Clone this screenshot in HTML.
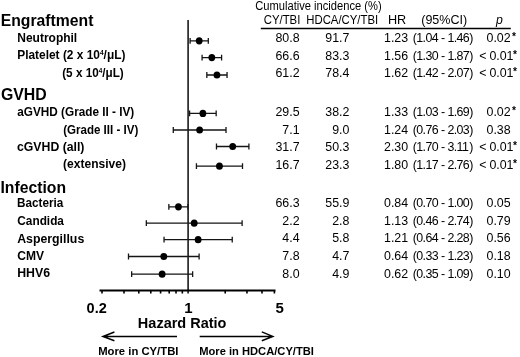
<!DOCTYPE html><html><head><meta charset="utf-8"><style>*{margin:0;padding:0}
html,body{width:520px;height:357px;background:#fff;overflow:hidden}
svg{display:block;filter:grayscale(1)}
text{fill:#000}
.ci{stroke:#151515;stroke-width:1.3;fill:none}
ellipse{fill:#000}
</style></head><body><svg width="520" height="357" viewBox="0 0 520 357">
<path d="M190.11 40.8H208.31M190.11 37.90V43.70M208.31 37.90V43.70" class="ci"/>
<ellipse cx="199.21" cy="40.8" rx="3.4" ry="3.6"/>
<path d="M202.08 57.6H221.60M202.08 54.70V60.50M221.60 54.70V60.50" class="ci"/>
<ellipse cx="211.84" cy="57.6" rx="3.4" ry="3.6"/>
<path d="M206.82 75.0H227.05M206.82 72.10V77.90M227.05 72.10V77.90" class="ci"/>
<ellipse cx="216.94" cy="75.0" rx="3.4" ry="3.6"/>
<path d="M189.59 113.4H216.17M189.59 110.50V116.30M216.17 110.50V116.30" class="ci"/>
<ellipse cx="202.88" cy="113.4" rx="3.4" ry="3.6"/>
<path d="M173.27 130.0H226.01M173.27 127.10V132.90M226.01 127.10V132.90" class="ci"/>
<ellipse cx="199.64" cy="130.0" rx="3.4" ry="3.6"/>
<path d="M216.48 146.5H248.91M216.48 143.60V149.40M248.91 143.60V149.40" class="ci"/>
<ellipse cx="232.69" cy="146.5" rx="3.4" ry="3.6"/>
<path d="M196.43 166.2H242.50M196.43 163.30V169.10M242.50 163.30V169.10" class="ci"/>
<ellipse cx="219.46" cy="166.2" rx="3.4" ry="3.6"/>
<path d="M168.85 206.8H188.00M168.85 203.90V209.70M188.00 203.90V209.70" class="ci"/>
<ellipse cx="178.43" cy="206.8" rx="3.4" ry="3.6"/>
<path d="M146.32 223.2H242.11M146.32 220.30V226.10M242.11 220.30V226.10" class="ci"/>
<ellipse cx="194.21" cy="223.2" rx="3.4" ry="3.6"/>
<path d="M164.04 239.7H232.24M164.04 236.80V242.60M232.24 236.80V242.60" class="ci"/>
<ellipse cx="198.14" cy="239.7" rx="3.4" ry="3.6"/>
<path d="M128.49 256.5H199.11M128.49 253.60V259.40M199.11 253.60V259.40" class="ci"/>
<ellipse cx="163.80" cy="256.5" rx="3.4" ry="3.6"/>
<path d="M131.65 274.2H192.63M131.65 271.30V277.10M192.63 271.30V277.10" class="ci"/>
<ellipse cx="162.14" cy="274.2" rx="3.4" ry="3.6"/>
<path d="M188.1 20V293.5" stroke="#1a1a1a" stroke-width="1.6" fill="none"/>
<path d="M99.5 290.4H275.5" stroke="#000" stroke-width="2" fill="none"/>
<path d="M102.00 290.4V293.6M124.00 290.4V293.6M138.81 290.4V293.6M150.79 290.4V293.6M160.58 290.4V293.6M169.20 290.4V293.6M176.02 290.4V293.6M182.34 290.4V293.6M225.21 290.4V293.6M246.97 290.4V293.6M262.00 290.4V293.6M274.39 290.4V293.6" stroke="#000" stroke-width="1.6" fill="none"/>
<path d="M103 336.5H177M114.4 332L103 336.5L114.4 340.8" stroke="#000" stroke-width="1.5" fill="none"/>
<path d="M199.7 336.4H272.5M261.8 331.9L272.8 336.4L261.8 340.8" stroke="#000" stroke-width="1.5" fill="none"/>
<path d="M260.8 28.6H510.8" stroke="#000" stroke-width="1.5" fill="none"/>
<text transform="translate(0.68,26.20) scale(1.0167,1.0600)" style='font-family:"Liberation Sans",sans-serif;font-weight:bold;font-size:15.5px;font-style:normal'>Engraftment</text>
<text transform="translate(0.93,99.50) scale(1.0243,1.0600)" style='font-family:"Liberation Sans",sans-serif;font-weight:bold;font-size:15.5px;font-style:normal'>GVHD</text>
<text transform="translate(0.48,193.00) scale(1.0167,1.0600)" style='font-family:"Liberation Sans",sans-serif;font-weight:bold;font-size:15.5px;font-style:normal'>Infection</text>
<text transform="translate(17.24,41.90) scale(1.0095,1.0000)" style='font-family:"Liberation Sans",sans-serif;font-weight:bold;font-size:11.9px;font-style:normal'>Neutrophil</text>
<text transform="translate(17.25,59.40) scale(1.0014,1.0000)" style='font-family:"Liberation Sans",sans-serif;font-weight:bold;font-size:11.9px;font-style:normal'>Platelet (2 x 10<tspan dy='-4.2' font-size='0.55em'>4</tspan><tspan dy='4.2'>/μL)</tspan></text>
<text transform="translate(62.21,77.20) scale(0.9854,1.0000)" style='font-family:"Liberation Sans",sans-serif;font-weight:bold;font-size:11.9px;font-style:normal'>(5 x 10<tspan dy='-4.2' font-size='0.55em'>4</tspan><tspan dy='4.2'>/μL)</tspan></text>
<text transform="translate(17.25,115.50) scale(0.9898,1.0000)" style='font-family:"Liberation Sans",sans-serif;font-weight:bold;font-size:11.9px;font-style:normal'>aGVHD (Grade II - IV)</text>
<text transform="translate(63.21,133.50) scale(0.9705,1.0000)" style='font-family:"Liberation Sans",sans-serif;font-weight:bold;font-size:11.9px;font-style:normal'>(Grade III - IV)</text>
<text transform="translate(16.98,150.90) scale(1.0319,1.0000)" style='font-family:"Liberation Sans",sans-serif;font-weight:bold;font-size:11.9px;font-style:normal'>cGVHD (all)</text>
<text transform="translate(63.09,168.40) scale(1.0131,1.0000)" style='font-family:"Liberation Sans",sans-serif;font-weight:bold;font-size:11.9px;font-style:normal'>(extensive)</text>
<text transform="translate(17.06,207.10) scale(0.9881,1.0000)" style='font-family:"Liberation Sans",sans-serif;font-weight:bold;font-size:11.9px;font-style:normal'>Bacteria</text>
<text transform="translate(17.30,224.90) scale(0.9935,1.0000)" style='font-family:"Liberation Sans",sans-serif;font-weight:bold;font-size:11.9px;font-style:normal'>Candida</text>
<text transform="translate(17.14,242.50) scale(1.0359,1.0000)" style='font-family:"Liberation Sans",sans-serif;font-weight:bold;font-size:11.9px;font-style:normal'>Aspergillus</text>
<text transform="translate(17.19,260.00) scale(1.0136,1.0000)" style='font-family:"Liberation Sans",sans-serif;font-weight:bold;font-size:11.9px;font-style:normal'>CMV</text>
<text transform="translate(17.22,277.40) scale(1.0361,1.0000)" style='font-family:"Liberation Sans",sans-serif;font-weight:bold;font-size:11.9px;font-style:normal'>HHV6</text>
<text transform="translate(255.25,10.10) scale(0.9071,1.0000)" style='font-family:"Liberation Sans",sans-serif;font-weight:normal;font-size:12.3px;font-style:normal'>Cumulative incidence (%)</text>
<text transform="translate(263.74,24.30) scale(0.9237,1.0000)" style='font-family:"Liberation Sans",sans-serif;font-weight:normal;font-size:12.3px;font-style:normal'>CY/TBI</text>
<text transform="translate(306.28,24.30) scale(0.9228,1.0000)" style='font-family:"Liberation Sans",sans-serif;font-weight:normal;font-size:12.3px;font-style:normal'>HDCA/CY/TBI</text>
<text transform="translate(387.97,24.20) scale(1.0312,1.0000)" style='font-family:"Liberation Sans",sans-serif;font-weight:normal;font-size:12.3px;font-style:normal'>HR</text>
<text transform="translate(421.23,24.30) scale(1.0207,1.0000)" style='font-family:"Liberation Sans",sans-serif;font-weight:normal;font-size:12.3px;font-style:normal'>(95%CI)</text>
<text transform="translate(495.95,24.30)" style='font-family:"Liberation Sans",sans-serif;font-weight:normal;font-size:12.3px;font-style:italic'>p</text>
<text x="299.6" y="41.9" text-anchor="end" style='font-family:"Liberation Sans",sans-serif;font-weight:normal;font-size:12.4px;font-style:normal'>80.8</text>
<text x="349.4" y="41.9" text-anchor="end" style='font-family:"Liberation Sans",sans-serif;font-weight:normal;font-size:12.4px;font-style:normal'>91.7</text>
<text x="384.0" y="41.9" style='font-family:"Liberation Sans",sans-serif;font-weight:normal;font-size:12.4px;font-style:normal'>1.23</text>
<text transform="translate(412.75,41.90)" style='font-family:"Liberation Sans",sans-serif;font-weight:normal;font-size:12.4px;font-style:normal;letter-spacing:-0.6px'>(1.04</text>
<text transform="translate(441.10,41.90)" style='font-family:"Liberation Sans",sans-serif;font-weight:normal;font-size:12.4px;font-style:normal'>-</text>
<text x="447.4" y="41.9" style='font-family:"Liberation Sans",sans-serif;font-weight:normal;font-size:12.4px;font-style:normal;letter-spacing:-0.6px'>1.46</text>
<text transform="translate(469.35,41.90)" style='font-family:"Liberation Sans",sans-serif;font-weight:normal;font-size:12.4px;font-style:normal'>)</text>
<text x="486.5" y="41.9" style='font-family:"Liberation Sans",sans-serif;font-weight:normal;font-size:12.4px;font-style:normal'>0.02</text>
<text transform="translate(511.90,39.90)" style='font-family:"Liberation Sans",sans-serif;font-weight:bold;font-size:10.2px;font-style:normal'>*</text>
<text x="299.6" y="59.6" text-anchor="end" style='font-family:"Liberation Sans",sans-serif;font-weight:normal;font-size:12.4px;font-style:normal'>66.6</text>
<text x="349.4" y="59.6" text-anchor="end" style='font-family:"Liberation Sans",sans-serif;font-weight:normal;font-size:12.4px;font-style:normal'>83.3</text>
<text x="384.0" y="59.6" style='font-family:"Liberation Sans",sans-serif;font-weight:normal;font-size:12.4px;font-style:normal'>1.56</text>
<text transform="translate(412.75,59.60)" style='font-family:"Liberation Sans",sans-serif;font-weight:normal;font-size:12.4px;font-style:normal;letter-spacing:-0.6px'>(1.30</text>
<text transform="translate(441.10,59.60)" style='font-family:"Liberation Sans",sans-serif;font-weight:normal;font-size:12.4px;font-style:normal'>-</text>
<text x="447.4" y="59.6" style='font-family:"Liberation Sans",sans-serif;font-weight:normal;font-size:12.4px;font-style:normal;letter-spacing:-0.6px'>1.87</text>
<text transform="translate(469.35,59.60)" style='font-family:"Liberation Sans",sans-serif;font-weight:normal;font-size:12.4px;font-style:normal'>)</text>
<text transform="translate(479.20,59.60)" style='font-family:"Liberation Sans",sans-serif;font-weight:normal;font-size:12.4px;font-style:normal'>&lt;</text>
<text x="489.4" y="59.6" style='font-family:"Liberation Sans",sans-serif;font-weight:normal;font-size:12.4px;font-style:normal'>0.01</text>
<text transform="translate(513.00,57.60)" style='font-family:"Liberation Sans",sans-serif;font-weight:bold;font-size:10.2px;font-style:normal'>*</text>
<text x="299.6" y="77.3" text-anchor="end" style='font-family:"Liberation Sans",sans-serif;font-weight:normal;font-size:12.4px;font-style:normal'>61.2</text>
<text x="349.4" y="77.3" text-anchor="end" style='font-family:"Liberation Sans",sans-serif;font-weight:normal;font-size:12.4px;font-style:normal'>78.4</text>
<text x="384.0" y="77.3" style='font-family:"Liberation Sans",sans-serif;font-weight:normal;font-size:12.4px;font-style:normal'>1.62</text>
<text transform="translate(412.75,77.30)" style='font-family:"Liberation Sans",sans-serif;font-weight:normal;font-size:12.4px;font-style:normal;letter-spacing:-0.6px'>(1.42</text>
<text transform="translate(441.10,77.30)" style='font-family:"Liberation Sans",sans-serif;font-weight:normal;font-size:12.4px;font-style:normal'>-</text>
<text x="447.4" y="77.3" style='font-family:"Liberation Sans",sans-serif;font-weight:normal;font-size:12.4px;font-style:normal;letter-spacing:-0.6px'>2.07</text>
<text transform="translate(469.35,77.30)" style='font-family:"Liberation Sans",sans-serif;font-weight:normal;font-size:12.4px;font-style:normal'>)</text>
<text transform="translate(479.20,77.30)" style='font-family:"Liberation Sans",sans-serif;font-weight:normal;font-size:12.4px;font-style:normal'>&lt;</text>
<text x="489.4" y="77.3" style='font-family:"Liberation Sans",sans-serif;font-weight:normal;font-size:12.4px;font-style:normal'>0.01</text>
<text transform="translate(513.00,75.30)" style='font-family:"Liberation Sans",sans-serif;font-weight:bold;font-size:10.2px;font-style:normal'>*</text>
<text x="299.6" y="115.8" text-anchor="end" style='font-family:"Liberation Sans",sans-serif;font-weight:normal;font-size:12.4px;font-style:normal'>29.5</text>
<text x="349.4" y="115.8" text-anchor="end" style='font-family:"Liberation Sans",sans-serif;font-weight:normal;font-size:12.4px;font-style:normal'>38.2</text>
<text x="384.0" y="115.8" style='font-family:"Liberation Sans",sans-serif;font-weight:normal;font-size:12.4px;font-style:normal'>1.33</text>
<text transform="translate(412.75,115.80)" style='font-family:"Liberation Sans",sans-serif;font-weight:normal;font-size:12.4px;font-style:normal;letter-spacing:-0.6px'>(1.03</text>
<text transform="translate(441.10,115.80)" style='font-family:"Liberation Sans",sans-serif;font-weight:normal;font-size:12.4px;font-style:normal'>-</text>
<text x="447.4" y="115.8" style='font-family:"Liberation Sans",sans-serif;font-weight:normal;font-size:12.4px;font-style:normal;letter-spacing:-0.6px'>1.69</text>
<text transform="translate(469.35,115.80)" style='font-family:"Liberation Sans",sans-serif;font-weight:normal;font-size:12.4px;font-style:normal'>)</text>
<text x="486.5" y="115.8" style='font-family:"Liberation Sans",sans-serif;font-weight:normal;font-size:12.4px;font-style:normal'>0.02</text>
<text transform="translate(511.90,113.80)" style='font-family:"Liberation Sans",sans-serif;font-weight:bold;font-size:10.2px;font-style:normal'>*</text>
<text x="299.6" y="133.5" text-anchor="end" style='font-family:"Liberation Sans",sans-serif;font-weight:normal;font-size:12.4px;font-style:normal'>7.1</text>
<text x="349.4" y="133.5" text-anchor="end" style='font-family:"Liberation Sans",sans-serif;font-weight:normal;font-size:12.4px;font-style:normal'>9.0</text>
<text x="384.0" y="133.5" style='font-family:"Liberation Sans",sans-serif;font-weight:normal;font-size:12.4px;font-style:normal'>1.24</text>
<text transform="translate(412.75,133.50)" style='font-family:"Liberation Sans",sans-serif;font-weight:normal;font-size:12.4px;font-style:normal;letter-spacing:-0.6px'>(0.76</text>
<text transform="translate(441.10,133.50)" style='font-family:"Liberation Sans",sans-serif;font-weight:normal;font-size:12.4px;font-style:normal'>-</text>
<text x="447.4" y="133.5" style='font-family:"Liberation Sans",sans-serif;font-weight:normal;font-size:12.4px;font-style:normal;letter-spacing:-0.6px'>2.03</text>
<text transform="translate(469.35,133.50)" style='font-family:"Liberation Sans",sans-serif;font-weight:normal;font-size:12.4px;font-style:normal'>)</text>
<text x="486.5" y="133.5" style='font-family:"Liberation Sans",sans-serif;font-weight:normal;font-size:12.4px;font-style:normal'>0.38</text>
<text x="299.6" y="151.0" text-anchor="end" style='font-family:"Liberation Sans",sans-serif;font-weight:normal;font-size:12.4px;font-style:normal'>31.7</text>
<text x="349.4" y="151.0" text-anchor="end" style='font-family:"Liberation Sans",sans-serif;font-weight:normal;font-size:12.4px;font-style:normal'>50.3</text>
<text x="384.0" y="151.0" style='font-family:"Liberation Sans",sans-serif;font-weight:normal;font-size:12.4px;font-style:normal'>2.30</text>
<text transform="translate(412.75,151.00)" style='font-family:"Liberation Sans",sans-serif;font-weight:normal;font-size:12.4px;font-style:normal;letter-spacing:-0.6px'>(1.70</text>
<text transform="translate(441.10,151.00)" style='font-family:"Liberation Sans",sans-serif;font-weight:normal;font-size:12.4px;font-style:normal'>-</text>
<text x="447.4" y="151.0" style='font-family:"Liberation Sans",sans-serif;font-weight:normal;font-size:12.4px;font-style:normal;letter-spacing:-0.6px'>3.11</text>
<text transform="translate(469.35,151.00)" style='font-family:"Liberation Sans",sans-serif;font-weight:normal;font-size:12.4px;font-style:normal'>)</text>
<text transform="translate(479.20,151.00)" style='font-family:"Liberation Sans",sans-serif;font-weight:normal;font-size:12.4px;font-style:normal'>&lt;</text>
<text x="489.4" y="151.0" style='font-family:"Liberation Sans",sans-serif;font-weight:normal;font-size:12.4px;font-style:normal'>0.01</text>
<text transform="translate(513.00,149.00)" style='font-family:"Liberation Sans",sans-serif;font-weight:bold;font-size:10.2px;font-style:normal'>*</text>
<text x="299.6" y="168.5" text-anchor="end" style='font-family:"Liberation Sans",sans-serif;font-weight:normal;font-size:12.4px;font-style:normal'>16.7</text>
<text x="349.4" y="168.5" text-anchor="end" style='font-family:"Liberation Sans",sans-serif;font-weight:normal;font-size:12.4px;font-style:normal'>23.3</text>
<text x="384.0" y="168.5" style='font-family:"Liberation Sans",sans-serif;font-weight:normal;font-size:12.4px;font-style:normal'>1.80</text>
<text transform="translate(412.75,168.50)" style='font-family:"Liberation Sans",sans-serif;font-weight:normal;font-size:12.4px;font-style:normal;letter-spacing:-0.6px'>(1.17</text>
<text transform="translate(441.10,168.50)" style='font-family:"Liberation Sans",sans-serif;font-weight:normal;font-size:12.4px;font-style:normal'>-</text>
<text x="447.4" y="168.5" style='font-family:"Liberation Sans",sans-serif;font-weight:normal;font-size:12.4px;font-style:normal;letter-spacing:-0.6px'>2.76</text>
<text transform="translate(469.35,168.50)" style='font-family:"Liberation Sans",sans-serif;font-weight:normal;font-size:12.4px;font-style:normal'>)</text>
<text transform="translate(479.20,168.50)" style='font-family:"Liberation Sans",sans-serif;font-weight:normal;font-size:12.4px;font-style:normal'>&lt;</text>
<text x="489.4" y="168.5" style='font-family:"Liberation Sans",sans-serif;font-weight:normal;font-size:12.4px;font-style:normal'>0.01</text>
<text transform="translate(513.00,166.50)" style='font-family:"Liberation Sans",sans-serif;font-weight:bold;font-size:10.2px;font-style:normal'>*</text>
<text x="299.6" y="207.3" text-anchor="end" style='font-family:"Liberation Sans",sans-serif;font-weight:normal;font-size:12.4px;font-style:normal'>66.3</text>
<text x="349.4" y="207.3" text-anchor="end" style='font-family:"Liberation Sans",sans-serif;font-weight:normal;font-size:12.4px;font-style:normal'>55.9</text>
<text x="384.0" y="207.3" style='font-family:"Liberation Sans",sans-serif;font-weight:normal;font-size:12.4px;font-style:normal'>0.84</text>
<text transform="translate(412.75,207.30)" style='font-family:"Liberation Sans",sans-serif;font-weight:normal;font-size:12.4px;font-style:normal;letter-spacing:-0.6px'>(0.70</text>
<text transform="translate(441.10,207.30)" style='font-family:"Liberation Sans",sans-serif;font-weight:normal;font-size:12.4px;font-style:normal'>-</text>
<text x="447.4" y="207.3" style='font-family:"Liberation Sans",sans-serif;font-weight:normal;font-size:12.4px;font-style:normal;letter-spacing:-0.6px'>1.00</text>
<text transform="translate(469.35,207.30)" style='font-family:"Liberation Sans",sans-serif;font-weight:normal;font-size:12.4px;font-style:normal'>)</text>
<text x="486.5" y="207.3" style='font-family:"Liberation Sans",sans-serif;font-weight:normal;font-size:12.4px;font-style:normal'>0.05</text>
<text x="299.6" y="224.8" text-anchor="end" style='font-family:"Liberation Sans",sans-serif;font-weight:normal;font-size:12.4px;font-style:normal'>2.2</text>
<text x="349.4" y="224.8" text-anchor="end" style='font-family:"Liberation Sans",sans-serif;font-weight:normal;font-size:12.4px;font-style:normal'>2.8</text>
<text x="384.0" y="224.8" style='font-family:"Liberation Sans",sans-serif;font-weight:normal;font-size:12.4px;font-style:normal'>1.13</text>
<text transform="translate(412.75,224.80)" style='font-family:"Liberation Sans",sans-serif;font-weight:normal;font-size:12.4px;font-style:normal;letter-spacing:-0.6px'>(0.46</text>
<text transform="translate(441.10,224.80)" style='font-family:"Liberation Sans",sans-serif;font-weight:normal;font-size:12.4px;font-style:normal'>-</text>
<text x="447.4" y="224.8" style='font-family:"Liberation Sans",sans-serif;font-weight:normal;font-size:12.4px;font-style:normal;letter-spacing:-0.6px'>2.74</text>
<text transform="translate(469.35,224.80)" style='font-family:"Liberation Sans",sans-serif;font-weight:normal;font-size:12.4px;font-style:normal'>)</text>
<text x="486.5" y="224.8" style='font-family:"Liberation Sans",sans-serif;font-weight:normal;font-size:12.4px;font-style:normal'>0.79</text>
<text x="299.6" y="242.3" text-anchor="end" style='font-family:"Liberation Sans",sans-serif;font-weight:normal;font-size:12.4px;font-style:normal'>4.4</text>
<text x="349.4" y="242.3" text-anchor="end" style='font-family:"Liberation Sans",sans-serif;font-weight:normal;font-size:12.4px;font-style:normal'>5.8</text>
<text x="384.0" y="242.3" style='font-family:"Liberation Sans",sans-serif;font-weight:normal;font-size:12.4px;font-style:normal'>1.21</text>
<text transform="translate(412.75,242.30)" style='font-family:"Liberation Sans",sans-serif;font-weight:normal;font-size:12.4px;font-style:normal;letter-spacing:-0.6px'>(0.64</text>
<text transform="translate(441.10,242.30)" style='font-family:"Liberation Sans",sans-serif;font-weight:normal;font-size:12.4px;font-style:normal'>-</text>
<text x="447.4" y="242.3" style='font-family:"Liberation Sans",sans-serif;font-weight:normal;font-size:12.4px;font-style:normal;letter-spacing:-0.6px'>2.28</text>
<text transform="translate(469.35,242.30)" style='font-family:"Liberation Sans",sans-serif;font-weight:normal;font-size:12.4px;font-style:normal'>)</text>
<text x="486.5" y="242.3" style='font-family:"Liberation Sans",sans-serif;font-weight:normal;font-size:12.4px;font-style:normal'>0.56</text>
<text x="299.6" y="259.9" text-anchor="end" style='font-family:"Liberation Sans",sans-serif;font-weight:normal;font-size:12.4px;font-style:normal'>7.8</text>
<text x="349.4" y="259.9" text-anchor="end" style='font-family:"Liberation Sans",sans-serif;font-weight:normal;font-size:12.4px;font-style:normal'>4.7</text>
<text x="384.0" y="259.9" style='font-family:"Liberation Sans",sans-serif;font-weight:normal;font-size:12.4px;font-style:normal'>0.64</text>
<text transform="translate(412.75,259.90)" style='font-family:"Liberation Sans",sans-serif;font-weight:normal;font-size:12.4px;font-style:normal;letter-spacing:-0.6px'>(0.33</text>
<text transform="translate(441.10,259.90)" style='font-family:"Liberation Sans",sans-serif;font-weight:normal;font-size:12.4px;font-style:normal'>-</text>
<text x="447.4" y="259.9" style='font-family:"Liberation Sans",sans-serif;font-weight:normal;font-size:12.4px;font-style:normal;letter-spacing:-0.6px'>1.23</text>
<text transform="translate(469.35,259.90)" style='font-family:"Liberation Sans",sans-serif;font-weight:normal;font-size:12.4px;font-style:normal'>)</text>
<text x="486.5" y="259.9" style='font-family:"Liberation Sans",sans-serif;font-weight:normal;font-size:12.4px;font-style:normal'>0.18</text>
<text x="299.6" y="277.5" text-anchor="end" style='font-family:"Liberation Sans",sans-serif;font-weight:normal;font-size:12.4px;font-style:normal'>8.0</text>
<text x="349.4" y="277.5" text-anchor="end" style='font-family:"Liberation Sans",sans-serif;font-weight:normal;font-size:12.4px;font-style:normal'>4.9</text>
<text x="384.0" y="277.5" style='font-family:"Liberation Sans",sans-serif;font-weight:normal;font-size:12.4px;font-style:normal'>0.62</text>
<text transform="translate(412.75,277.50)" style='font-family:"Liberation Sans",sans-serif;font-weight:normal;font-size:12.4px;font-style:normal;letter-spacing:-0.6px'>(0.35</text>
<text transform="translate(441.10,277.50)" style='font-family:"Liberation Sans",sans-serif;font-weight:normal;font-size:12.4px;font-style:normal'>-</text>
<text x="447.4" y="277.5" style='font-family:"Liberation Sans",sans-serif;font-weight:normal;font-size:12.4px;font-style:normal;letter-spacing:-0.6px'>1.09</text>
<text transform="translate(469.35,277.50)" style='font-family:"Liberation Sans",sans-serif;font-weight:normal;font-size:12.4px;font-style:normal'>)</text>
<text x="486.5" y="277.5" style='font-family:"Liberation Sans",sans-serif;font-weight:normal;font-size:12.4px;font-style:normal'>0.10</text>
<text transform="translate(86.62,312.70) scale(0.9671,1.0000)" style='font-family:"Liberation Sans",sans-serif;font-weight:bold;font-size:15.0px;font-style:normal'>0.2</text>
<text transform="translate(184.30,312.70)" style='font-family:"Liberation Sans",sans-serif;font-weight:bold;font-size:15.0px;font-style:normal'>1</text>
<text transform="translate(275.50,312.70)" style='font-family:"Liberation Sans",sans-serif;font-weight:bold;font-size:15.0px;font-style:normal'>5</text>
<text transform="translate(137.86,327.60) scale(1.0357,1.0700)" style='font-family:"Liberation Sans",sans-serif;font-weight:bold;font-size:14.0px;font-style:normal'>Hazard Ratio</text>
<text transform="translate(98.18,354.90) scale(1.0969,1.0000)" style='font-family:"Liberation Sans",sans-serif;font-weight:bold;font-size:10.3px;font-style:normal'>More in CY/TBI</text>
<text transform="translate(199.19,354.80) scale(1.0852,1.0000)" style='font-family:"Liberation Sans",sans-serif;font-weight:bold;font-size:10.3px;font-style:normal'>More in HDCA/CY/TBI</text>
</svg></body></html>
